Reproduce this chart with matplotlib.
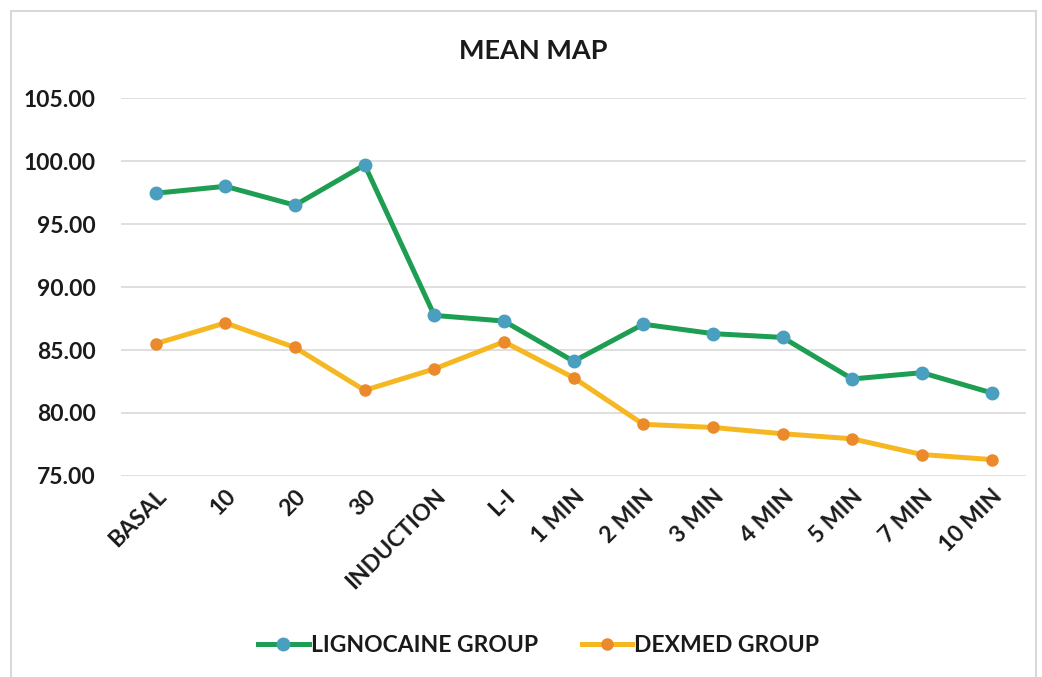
import matplotlib.pyplot as plt
from matplotlib.patches import Rectangle

##### DATA #####
labels = ['BASAL', '10', '20', '30', 'INDUCTION', 'L-I', '1 MIN', '2 MIN',
          '3 MIN', '4 MIN', '5 MIN', '7 MIN', '10 MIN']
lignocaine = [97.45, 98.0, 96.5, 99.7, 87.75, 87.3, 84.1, 87.05,
              86.3, 86.0, 82.7, 83.2, 81.6]
dexmed = [85.5, 87.15, 85.2, 81.8, 83.5, 85.65, 82.8, 79.1,
          78.85, 78.35, 77.95, 76.7, 76.3]
##### ENDDATA #####

plt.rcParams['font.family'] = ['Lato', 'DejaVu Sans']
plt.rcParams['font.weight'] = 'bold'

fig = plt.figure(figsize=(10.42, 6.77), dpi=100)
ax = fig.add_axes([0.116, 0.297, 0.869, 0.558])

x = list(range(len(labels)))
ax.plot(x, lignocaine, '-o', color='#1e9e52', lw=3.6, ms=9,
        mfc='#4a9fbf', mec='#4a9fbf', label='LIGNOCAINE GROUP', zorder=3)
ax.plot(x, dexmed, '-o', color='#f6b822', lw=3.6, ms=8,
        mfc='#eb8a2a', mec='#eb8a2a', label='DEXMED GROUP', zorder=3)

ax.set_xlim(-0.5, len(labels) - 0.5)
ax.set_ylim(75, 105)
ax.set_yticks(range(75, 106, 5))
ax.set_yticklabels(['%.2f' % v for v in range(75, 106, 5)])
ax.set_xticks(x)
ax.set_xticklabels(labels, rotation=45, ha='right', rotation_mode='anchor')
ax.tick_params(axis='both', length=0, labelsize=16.5, labelcolor='#1a1a1a')
ax.tick_params(axis='y', pad=18)
ax.tick_params(axis='x', pad=7)
ax.grid(axis='y', color='#dcdcdc', lw=1.3)
ax.set_axisbelow(True)
for s in ax.spines.values():
    s.set_visible(False)

fig.text(0.512, 0.925, 'MEAN MAP', ha='center', va='center',
         fontsize=19.5, color='#1a1a1a')
leg = fig.legend(loc='center', bbox_to_anchor=(0.517, 0.047), ncol=2,
                 frameon=False, fontsize=16.5, handlelength=2.2,
                 handletextpad=0.1, columnspacing=1.9)
for t in leg.get_texts():
    t.set_color('#1a1a1a')

# outer chart border
fig.patches.append(Rectangle((0.0105, -0.01), 0.984, 0.994, transform=fig.transFigure,
                             fill=False, ec='#d9d9d9', lw=1.5))

fig.savefig('out.png', dpi=100)
